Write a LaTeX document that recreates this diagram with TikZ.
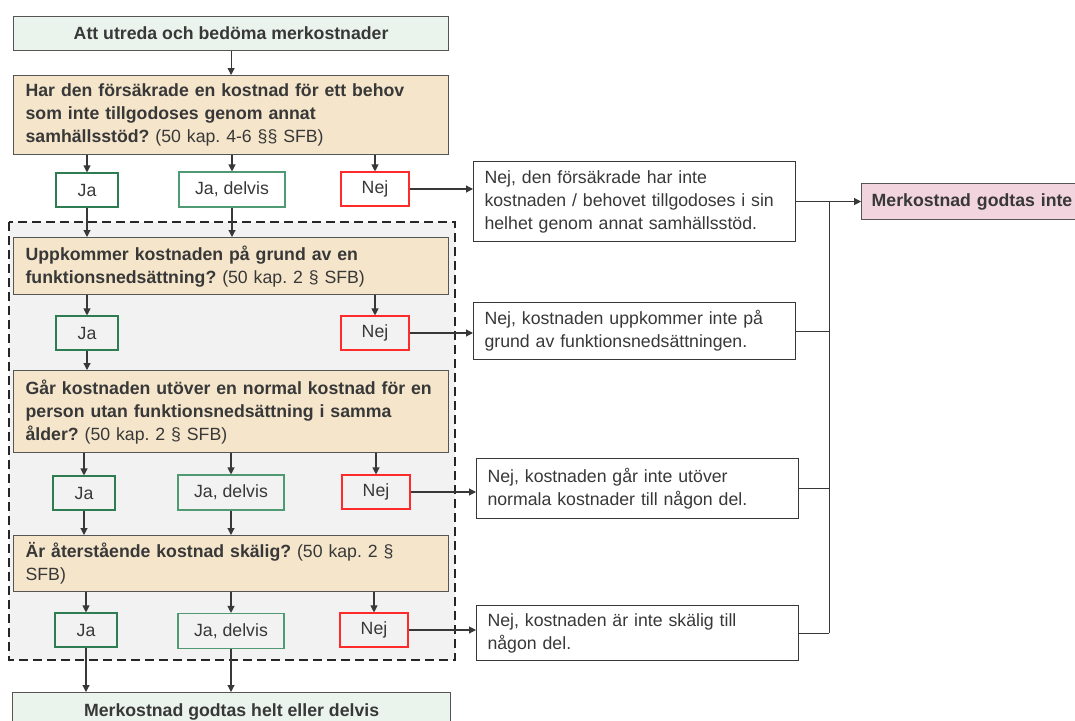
\documentclass[tikz,border=0pt]{standalone}
\usepackage{fontspec}
\setmainfont{Liberation Sans}
\usetikzlibrary{arrows.meta, positioning}
\frenchspacing
\definecolor{text_gray}{HTML}{383838}
\definecolor{edge_gray}{HTML}{555555}
\definecolor{start_set}{HTML}{EBF4EC}
\definecolor{question_set}{HTML}{F5E6CB}
\definecolor{refuse_set}{HTML}{F2D4DE}
\definecolor{region_set}{HTML}{F2F2F2}
\definecolor{yes_set}{HTML}{2E7D52}
\definecolor{part_set}{HTML}{4F9A72}
\definecolor{no_set}{HTML}{FF2B2B}
\tikzset{>={Triangle[length=7pt,width=7pt]},
  every node/.style={font=\fontsize{17.7}{23}\selectfont, text=text_gray},
  head box/.style={draw=edge_gray, fill=start_set, line width=1.2pt,
    minimum width=435pt, minimum height=34pt, anchor=north west,
    font=\fontsize{17.7}{23}\selectfont\bfseries},
  question box/.style={draw=edge_gray, fill=question_set, line width=1.2pt,
    text width=411pt, inner xsep=12pt, align=left, anchor=north west},
  yes box/.style={draw=yes_set, line width=1.1pt, minimum width=62pt, minimum height=34pt},
  part box/.style={draw=part_set, line width=1.1pt, minimum width=106pt, minimum height=35pt},
  no box/.style={draw=no_set, line width=1.1pt, minimum width=68pt, minimum height=34pt},
  reason box/.style={draw=text_gray, fill=white, line width=1.1pt,
    text width=300pt, inner xsep=11pt, align=left, anchor=north west},
  refuse box/.style={draw=edge_gray, fill=refuse_set, line width=1.2pt,
    text width=210pt, inner xsep=10pt, minimum height=36pt, align=left, anchor=west,
    font=\fontsize{17.7}{23}\selectfont\bfseries},
  link/.style={draw=text_gray, line width=1.1pt},
  region/.style={draw=black!85, fill=region_set, line width=2.2pt, dash pattern=on 9pt off 5pt}
}

\begin{document}
\begin{tikzpicture}[x=1pt, y=-1pt]
\useasboundingbox (0,0) rectangle (1075,720);

% Dashed region round the later questions
\draw[region] (9,222) rectangle (455,660);

% Start and the first question
\node[head box] (start) at (13,16) {Att utreda och bedöma merkostnader};
\node[question box, minimum height=79pt] (q1) at (13,75)
  {\textbf{Har den försäkrade en kostnad för ett behov\\ som inte tillgodoses genom annat\\ samhällsstöd?} (50 kap. 4-6 §§ SFB)};
\node[yes box] (ja1) at (87,190) {Ja};
\node[part box] (delvis1) at (232,189.5) {Ja, delvis};
\node[no box] (nej1) at (375,189) {Nej};
\node[reason box, minimum height=80pt] (n1) at (473,161)
  {Nej, den försäkrade har inte\\ kostnaden / behovet tillgodoses i sin\\ helhet genom annat samhällsstöd.};

% Second question
\node[question box, minimum height=57pt] (q2) at (13,237)
  {\textbf{Uppkommer kostnaden på grund av en\\ funktionsnedsättning?} (50 kap. 2 § SFB)};
\node[yes box] (ja2) at (87,333) {Ja};
\node[no box] (nej2) at (375,333) {Nej};
\node[reason box, minimum height=57pt] (n2) at (473,302)
  {Nej, kostnaden uppkommer inte på\\ grund av funktionsnedsättningen.};

% Third question
\node[question box, minimum height=82pt] (q3) at (13,370)
  {\textbf{Går kostnaden utöver en normal kostnad för~en\\ person utan funktionsnedsättning i samma\\ ålder?} (50 kap. 2 § SFB)};
\node[yes box] (ja3) at (84,493) {Ja};
\node[part box] (delvis3) at (231,492.5) {Ja, delvis};
\node[no box] (nej3) at (376,492) {Nej};
\node[reason box, minimum height=60pt] (n3) at (476,458)
  {Nej, kostnaden går inte utöver\\ normala kostnader till någon del.};

% Fourth question
\node[question box, minimum height=56pt] (q4) at (13,535)
  {\textbf{Är återstående kostnad skälig?} (50 kap. 2 §\\ SFB)};
\node[yes box] (ja4) at (86,630) {Ja};
\node[part box] (delvis4) at (231,631) {Ja, delvis};
\node[no box] (nej4) at (374,630) {Nej};
\node[reason box, minimum height=55pt] (n4) at (476,605)
  {Nej, kostnaden är inte skälig till\\ någon del.};

% Outcomes
\node[head box, minimum width=438pt, minimum height=38pt] (godtas) at (12,692) {Merkostnad godtas helt eller delvis};
\coordinate[right=33pt of n1.east] (bus);
\node[refuse box, right=32pt of bus] (inte) {Merkostnad godtas inte};

% Connectors down the questions
\draw[link, ->] (start) -- (q1);
\foreach \a in {ja1, delvis1, nej1}
  \draw[link, ->] (q1.south -| \a) -- (\a);
\draw[link, ->] (ja1) -- (ja1 |- q2.north);
\draw[link, ->] (delvis1) -- (delvis1 |- q2.north);
\foreach \a in {ja2, nej2}
  \draw[link, ->] (q2.south -| \a) -- (\a);
\draw[link, ->] (ja2) -- (ja2 |- q3.north);
\foreach \a in {ja3, delvis3, nej3}
  \draw[link, ->] (q3.south -| \a) -- (\a);
\draw[link, ->] (ja3) -- (ja3 |- q4.north);
\draw[link, ->] (delvis3) -- (delvis3 |- q4.north);
\foreach \a in {ja4, delvis4, nej4}
  \draw[link, ->] (q4.south -| \a) -- (\a);
\draw[link, ->] (ja4) -- (ja4 |- godtas.north);
\draw[link, ->] (delvis4) -- (delvis4 |- godtas.north);

% Nej answers to their reasons
\draw[link, ->] (nej1) -- (nej1 -| n1.west);
\draw[link, ->] (nej2) -- (nej2 -| n2.west);
\draw[link, ->] (nej3) -- (nej3 -| n3.west);
\draw[link, ->] (nej4) -- (nej4 -| n4.west);

% Reasons gathered to the refusal
\draw[link] (n1.east) -- (bus);
\draw[link] (n2.east) -- (n2.east -| bus);
\draw[link] (n3.east) -- (n3.east -| bus);
\draw[link] (n4.east) -- (n4.east -| bus);
\draw[link] (bus) -- (bus |- n4.east);
\draw[link, ->] (bus) -- (inte);

\end{tikzpicture}
\end{document}
